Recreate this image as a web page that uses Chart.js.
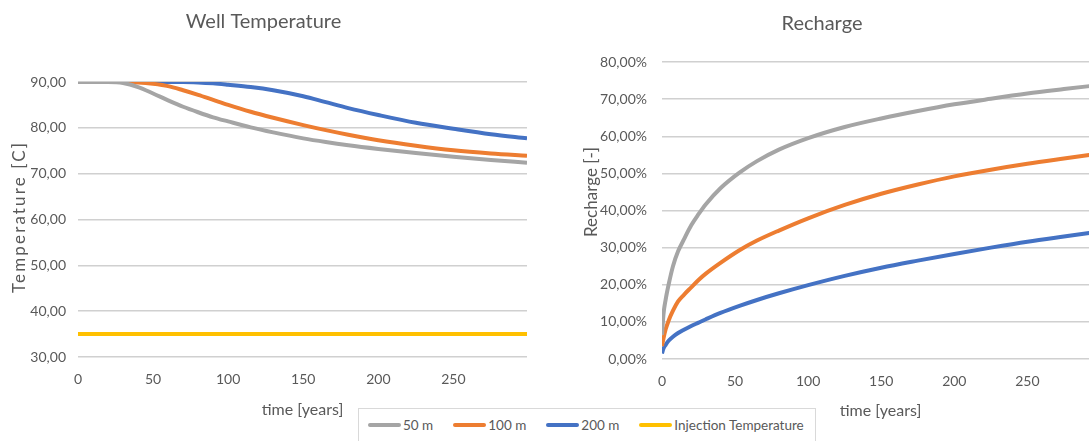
<!DOCTYPE html>
<html>
<head>
<meta charset="utf-8">
<script src="https://cdn.jsdelivr.net/npm/chart.js@4/dist/chart.umd.min.js"></script>
<style>
  html, body { margin: 0; padding: 0; background: #fff; width: 1089px; height: 441px; overflow: hidden; }
  #wrap { position: relative; width: 1089px; height: 441px; overflow: hidden; }
  #wellChart { position: absolute; left: 0; top: 0; }
  #rechargeChart { position: absolute; left: 545px; top: 0; }
  #legend {
    position: absolute; left: 358px; top: 408px; width: 458px; height: 40px;
    border: 1px solid #d9d9d9; background: #fff; box-sizing: border-box;
    display: flex; align-items: flex-start; padding: 8px 0 0 9px;
    font-family: Lato, "Open Sans", sans-serif; font-size: 13.5px; color: #595959;
  }
  .item { display: flex; align-items: center; margin-right: 20px; white-space: nowrap; }
  .swatch { width: 33px; height: 4px; margin-right: 2px; border-radius: 2px; }
</style>
</head>
<body>
<div id="wrap">
  <canvas id="wellChart" width="545" height="441"></canvas>
  <canvas id="rechargeChart" width="594" height="441"></canvas>
  <div id="legend"></div>
</div>
<script>
// Series names and colours
const seriesNames = ['50 m', '100 m', '200 m', 'Injection Temperature'];
const seriesColors = ['#a5a5a5', '#ed7d31', '#4472c4', '#ffc000'];

// Well temperature [C] over time [years]
const wellTime      = [0,  20, 30,   40,   50,   60,   70,   80,   90,   100,  115,  130,  150,  165,  180,  200,  225,  250,  275,  299];
const wellTemp50    = [90, 90, 89.8, 88.9, 87.5, 86.0, 84.6, 83.4, 82.3, 81.4, 80.1, 79.0, 77.7, 76.9, 76.2, 75.4, 74.5, 73.7, 73.0, 72.4];
const wellTemp100   = [90, 90, 90,   89.9, 89.6, 89.1, 88.2, 87.2, 86.1, 85.0, 83.5, 82.2, 80.6, 79.5, 78.5, 77.3, 76.1, 75.1, 74.4, 73.9];
const wellTemp200   = [90, 90, 90,   90,   90,   90,   90,   89.9, 89.7, 89.4, 88.9, 88.2, 86.9, 85.6, 84.3, 82.8, 81.1, 79.8, 78.6, 77.7];
const injectionTemp = [35, 35, 35,   35,   35,   35,   35,   35,   35,   35,   35,   35,   35,   35,   35,   35,   35,   35,   35,   35];

// Recharge [%] over time [years]
const rechargeTime = [0,   1,   2.5, 4.5,  7.5,  11,   15,   20,   25,   30,   40,   53,   65,   80,   100,  125,  150,  175,  200,  225,  250,  275,  299];
const recharge50   = [6.5, 12,  16,  20,   25,   29,   32.2, 36,   39,   41.7, 46,   50.2, 53.3, 56.4, 59.5, 62.5, 64.8, 66.8, 68.6, 70.1, 71.5, 72.7, 73.8];
const recharge100  = [3.5, 5.5, 8.0, 10.3, 13.0, 15.5, 17.3, 19.3, 21.3, 23.0, 25.9, 29.3, 31.9, 34.6, 37.9, 41.5, 44.5, 47.0, 49.2, 51.0, 52.6, 54.0, 55.3];
const recharge200  = [1.5, 2.8, 3.8, 4.9,  6.0,  7.0,  7.9,  8.9,  9.8,  10.7, 12.4, 14.3, 15.9, 17.7, 19.9, 22.4, 24.6, 26.5, 28.3, 30.0, 31.6, 33.0, 34.3];

// Axis ranges and tick values
const timeRange = [0, 299];
const timeTicks = [0, 50, 100, 150, 200, 250];
const tempRange = [30, 90];
const tempStep = 10;
const rechargeRange = [0, 80];
const rechargeStep = 10;

const FONT = 'Lato, "Open Sans", sans-serif';
const TEXT = '#595959';
const GRID = '#d0d0d0';

function pts(xs, ys) { return xs.map((x, i) => ({ x: x, y: ys[i] })); }
function ds(idx, xs, ys) {
  return {
    label: seriesNames[idx], data: pts(xs, ys),
    borderColor: seriesColors[idx], backgroundColor: seriesColors[idx],
    borderWidth: 4, pointRadius: 0, fill: false,
    cubicInterpolationMode: 'monotone'
  };
}
const comma = v => Number(v).toFixed(2).replace('.', ',');

// Rotated axis title drawn at a given spot, stretched to a given length
const axisTitlePlugin = {
  id: 'axisTitleAt',
  afterDraw(chart, args, opts) {
    const ctx = chart.ctx;
    (opts.items || []).forEach(it => {
      ctx.save();
      ctx.font = it.font;
      ctx.fillStyle = it.color;
      ctx.textAlign = 'left';
      ctx.textBaseline = 'middle';
      const w = ctx.measureText(it.text).width;
      let spacing = 0;
      if (it.length && it.text.length > 1) spacing = Math.max(0, (it.length - w) / (it.text.length - 1));
      ctx.letterSpacing = spacing + 'px';
      const total = w + spacing * (it.text.length - 1);
      ctx.translate(it.x, it.y);
      ctx.rotate(-Math.PI / 2);
      ctx.fillText(it.text, -total / 2, 0);
      ctx.restore();
    });
  }
};

function xScale(titlePadBottom, height) {
  return {
    type: 'linear', min: timeRange[0], max: timeRange[1],
    afterBuildTicks(s) { s.ticks = timeTicks.map(v => ({ value: v })); },
    afterFit(s) { s.height = height; },
    ticks: { padding: 14, color: TEXT, font: { family: FONT, size: 14 } },
    grid: { display: false, drawTicks: false },
    border: { display: false },
    title: { display: true, text: 'time [years]', color: TEXT, font: { family: FONT, size: 16 }, padding: { top: 0, bottom: titlePadBottom } }
  };
}

// Well temperature chart
new Chart(document.getElementById('wellChart'), {
  type: 'line',
  data: { datasets: [
    ds(0, wellTime, wellTemp50),
    ds(1, wellTime, wellTemp100),
    ds(2, wellTime, wellTemp200),
    ds(3, wellTime, injectionTemp)
  ] },
  plugins: [axisTitlePlugin],
  options: {
    responsive: false, animation: false,
    layout: { padding: { top: 0, left: 0, right: 18, bottom: 0 } },
    plugins: {
      legend: { display: false }, tooltip: { enabled: false },
      title: { display: true, text: 'Well Temperature', color: TEXT, font: { family: FONT, size: 20, weight: 'normal' }, padding: { top: 10, bottom: 48 } },
      axisTitleAt: { items: [{ text: 'Temperature [C]', x: 19.5, y: 218, length: 150, font: '17px ' + FONT, color: TEXT }] }
    },
    scales: {
      x: xScale(22, 84),
      y: {
        min: tempRange[0], max: tempRange[1],
        ticks: { stepSize: tempStep, padding: 12, color: TEXT, font: { family: FONT, size: 14 }, callback: comma },
        grid: { color: GRID, lineWidth: 1.5, drawTicks: false },
        border: { display: false },
        afterFit(s) { s.width = 78; }
      }
    }
  }
});

// Recharge chart
new Chart(document.getElementById('rechargeChart'), {
  type: 'line',
  data: { datasets: [
    ds(0, rechargeTime, recharge50),
    ds(1, rechargeTime, recharge100),
    ds(2, rechargeTime, recharge200)
  ] },
  plugins: [axisTitlePlugin],
  options: {
    responsive: false, animation: false,
    layout: { padding: { top: 0, left: 0, right: 40, bottom: 0 } },
    plugins: {
      legend: { display: false }, tooltip: { enabled: false },
      title: { display: true, text: 'Recharge', color: TEXT, font: { family: FONT, size: 20, weight: 'normal' }, padding: { top: 12, bottom: 26 } },
      axisTitleAt: { items: [{ text: 'Recharge [-]', x: 46.5, y: 192, length: 90, font: '17px ' + FONT, color: TEXT }] }
    },
    scales: {
      x: xScale(21, 82),
      y: {
        min: rechargeRange[0], max: rechargeRange[1],
        ticks: { stepSize: rechargeStep, padding: 15, color: TEXT, font: { family: FONT, size: 14 }, callback: v => comma(v) + '%' },
        grid: { color: GRID, lineWidth: 1.5, drawTicks: false },
        border: { display: false },
        afterFit(s) { s.width = 117; }
      }
    }
  }
});

// Shared legend
const legend = document.getElementById('legend');
seriesNames.forEach((name, i) => {
  const item = document.createElement('div');
  item.className = 'item';
  const sw = document.createElement('span');
  sw.className = 'swatch';
  sw.style.background = seriesColors[i];
  const tx = document.createElement('span');
  tx.textContent = name;
  item.appendChild(sw);
  item.appendChild(tx);
  legend.appendChild(item);
});
</script>
</body>
</html>
